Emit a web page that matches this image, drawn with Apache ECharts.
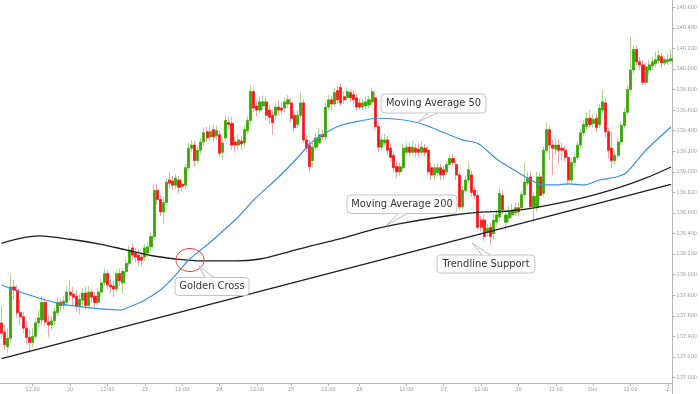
<!DOCTYPE html>
<html><head><meta charset="utf-8">
<script src="https://cdn.jsdelivr.net/npm/echarts@6/dist/echarts.min.js"></script>
<style>html,body{margin:0;padding:0;background:#fff}#c{width:700px;height:394px}</style>
</head><body><div id="c"></div>
<script>
// hourly candles: [open, close, low, high]
const candles = [
[137.53,137.43,137.38,137.70],[137.44,137.32,137.27,137.51],[137.30,137.38,137.24,137.48],[137.38,137.88,137.35,138.00],
[137.88,137.85,137.75,137.95],[137.85,137.63,137.58,137.90],[137.63,137.59,137.51,137.75],[137.59,137.48,137.43,137.64],
[137.48,137.39,137.32,137.54],[137.39,137.34,137.24,137.46],[137.34,137.40,137.29,137.48],[137.40,137.53,137.37,137.58],
[137.53,137.58,137.49,137.66],[137.56,137.73,137.51,137.79],[137.73,137.54,137.50,137.77],[137.54,137.51,137.39,137.61],
[137.51,137.55,137.46,137.60],[137.55,137.64,137.51,137.68],[137.63,137.73,137.60,137.78],[137.73,137.70,137.64,137.77],
[137.70,137.74,137.66,137.79],[137.73,137.83,137.69,137.89],[137.83,137.80,137.75,137.95],[137.81,137.78,137.70,137.88],
[137.79,137.69,137.64,137.85],[137.69,137.76,137.61,137.81],[137.75,137.82,137.70,137.87],[137.82,137.70,137.66,137.88],
[137.70,137.83,137.67,137.89],[137.83,137.78,137.73,137.86],[137.79,137.73,137.68,137.83],[137.73,137.83,137.70,137.87],
[137.83,137.92,137.79,137.96],[137.92,138.01,137.89,138.06],[138.01,137.90,137.86,138.05],[137.90,137.88,137.82,137.96],
[137.89,137.86,137.78,137.94],[137.86,138.01,137.83,138.05],[138.01,137.94,137.89,138.06],[137.92,138.03,137.82,138.06],
[138.03,138.11,137.98,138.16],[138.11,138.24,138.08,138.28],[138.26,138.19,138.14,138.30],[138.21,138.17,138.12,138.26],
[138.19,138.14,138.09,138.25],[138.17,138.14,138.08,138.22],[138.17,138.26,138.13,138.30],[138.21,138.27,138.17,138.32],
[138.27,138.37,138.23,138.41],[138.37,138.82,138.34,138.88],[138.82,138.73,138.68,138.88],[138.73,138.61,138.57,138.77],
[138.61,138.70,138.50,138.75],[138.70,138.90,138.67,138.94],[138.92,138.89,138.84,139.00],[138.91,138.87,138.82,138.96],
[138.87,138.94,138.83,138.98],[138.92,138.85,138.79,138.96],[138.88,138.86,138.81,138.93],[138.87,139.04,138.83,139.08],
[139.04,139.23,139.01,139.28],[139.23,139.26,139.19,139.31],[139.26,139.11,139.05,139.30],[139.11,139.21,139.08,139.25],
[139.21,139.29,139.17,139.33],[139.29,139.38,139.25,139.43],[139.39,139.33,139.29,139.44],[139.34,139.39,139.30,139.44],
[139.41,139.34,139.30,139.46],[139.35,139.40,139.31,139.45],[139.36,139.18,139.14,139.40],[139.19,139.28,139.11,139.33],
[139.33,139.50,139.30,139.55],[139.48,139.46,139.41,139.54],[139.47,139.26,139.21,139.53],[139.29,139.26,139.19,139.34],
[139.26,139.31,139.21,139.36],[139.30,139.27,139.21,139.35],[139.28,139.41,139.24,139.45],[139.40,139.50,139.37,139.54],
[139.50,139.78,139.47,139.84],[139.78,139.62,139.58,139.82],[139.64,139.60,139.54,139.69],[139.60,139.68,139.57,139.73],
[139.64,139.68,139.60,139.74],[139.68,139.55,139.50,139.73],[139.60,139.53,139.46,139.65],[139.55,139.48,139.36,139.60],
[139.55,139.63,139.50,139.67],[139.63,139.60,139.55,139.70],[139.62,139.60,139.56,139.67],[139.62,139.68,139.58,139.73],
[139.66,139.70,139.62,139.75],[139.67,139.52,139.48,139.72],[139.55,139.43,139.39,139.60],[139.46,139.55,139.43,139.60],
[139.55,139.67,139.52,139.77],[139.67,139.31,139.28,139.71],[139.31,139.23,139.19,139.36],[139.26,139.05,139.00,139.31],
[139.11,139.24,139.04,139.28],[139.24,139.33,139.21,139.38],[139.28,139.36,139.25,139.43],[139.36,139.34,139.30,139.41],
[139.34,139.63,139.31,139.67],[139.63,139.70,139.60,139.75],[139.70,139.66,139.60,139.74],[139.66,139.77,139.63,139.82],
[139.79,139.70,139.66,139.84],[139.82,139.67,139.64,139.86],[139.73,139.70,139.66,139.78],[139.72,139.78,139.69,139.82],
[139.77,139.72,139.68,139.80],[139.75,139.70,139.66,139.80],[139.72,139.63,139.59,139.76],[139.67,139.63,139.60,139.71],
[139.63,139.67,139.60,139.71],[139.64,139.68,139.61,139.73],[139.65,139.70,139.62,139.74],[139.68,139.78,139.66,139.82],
[139.72,139.44,139.41,139.78],[139.44,139.24,139.19,139.47],[139.24,139.31,139.21,139.36],[139.28,139.31,139.25,139.37],
[139.31,139.21,139.16,139.35],[139.23,139.14,139.10,139.27],[139.16,139.04,138.99,139.20],[139.05,139.00,138.94,139.10],
[139.00,139.05,138.96,139.09],[139.04,139.23,139.01,139.27],[139.19,139.24,139.16,139.29],[139.24,139.19,139.15,139.28],
[139.19,139.24,139.16,139.30],[139.23,139.19,139.14,139.27],[139.22,139.19,139.14,139.28],[139.19,139.24,139.16,139.29],
[139.23,139.19,139.15,139.27],[139.21,139.00,138.97,139.25],[139.04,138.97,138.92,139.09],[138.97,139.04,138.92,139.07],
[138.99,139.04,138.96,139.09],[139.04,138.97,138.92,139.08],[139.02,138.97,138.92,139.06],[139.00,139.07,138.97,139.10],
[139.07,139.13,139.04,139.17],[139.13,139.09,139.05,139.18],[139.07,138.97,138.92,139.10],[138.97,138.66,138.63,139.00],
[138.66,138.82,138.63,138.86],[138.82,138.92,138.79,138.96],[138.92,139.02,138.89,139.10],[138.97,138.80,138.76,139.01],
[138.82,138.77,138.73,138.86],[138.77,138.46,138.43,138.82],[138.53,138.46,138.42,138.57],[138.53,138.37,138.33,138.58],
[138.41,138.45,138.37,138.49],[138.46,138.37,138.29,138.51],[138.40,138.53,138.34,138.59],[138.51,138.58,138.47,138.63],
[138.56,138.79,138.53,138.84],[138.77,138.63,138.59,138.82],[138.51,138.58,138.43,138.63],[138.55,138.61,138.51,138.67],
[138.58,138.63,138.55,138.69],[138.60,138.65,138.57,138.70],[138.65,138.61,138.57,138.70],[138.65,138.78,138.62,138.82],
[138.78,138.90,138.75,139.09],[138.89,138.94,138.86,139.00],[138.95,138.66,138.63,139.00],[138.66,138.76,138.50,138.80],
[138.65,138.95,138.61,139.00],[138.95,138.77,138.73,138.99],[138.79,139.21,138.76,139.25],[139.21,139.41,139.18,139.48],
[139.41,139.26,139.11,139.45],[139.26,139.23,138.97,139.31],[139.22,139.26,139.16,139.33],[139.26,139.21,139.07,139.32],
[139.23,139.21,139.11,139.28],[139.21,139.14,139.10,139.25],[139.14,138.92,138.87,139.18],[138.92,139.09,138.89,139.13],
[139.09,139.14,139.05,139.18],[139.14,139.26,139.11,139.30],[139.26,139.38,139.23,139.42],[139.38,139.46,139.35,139.50],
[139.44,139.52,139.41,139.58],[139.52,139.46,139.43,139.60],[139.47,139.51,139.43,139.56],[139.52,139.43,139.39,139.57],
[139.46,139.62,139.43,139.66],[139.60,139.68,139.57,139.80],[139.67,139.39,139.33,139.72],[139.39,139.21,139.13,139.43],
[139.23,139.11,139.04,139.39],[139.11,139.16,139.07,139.21],[139.16,139.29,139.13,139.33],[139.29,139.45,139.26,139.49],
[139.45,139.58,139.42,139.62],[139.58,139.80,139.55,139.84],[139.80,139.99,139.77,140.31],[139.99,140.19,139.95,140.23],
[140.19,140.07,140.03,140.23],[140.07,140.04,139.99,140.12],[140.04,139.87,139.84,140.09],[139.87,140.02,139.84,140.06],
[139.99,140.04,139.94,140.09],[140.03,140.07,139.99,140.12],[140.05,140.09,140.02,140.17],[140.08,140.13,140.05,140.18],
[140.12,140.06,140.01,140.16],[140.06,140.09,140.03,140.12],[140.07,140.09,140.04,140.14],[140.08,140.10,140.05,140.19]
];
// [candle index, value]
const ma50 = [
[0,137.899],[5,137.841],[12,137.773],[19,137.715],[25,137.688],[32,137.666],[38,137.656],[41,137.685],[46,137.753],
[51,137.851],[54,137.935],[58,138.070],[60,138.140],[64,138.240],[67,138.315],[76,138.561],[81,138.726],[89,138.950],
[95,139.134],[99,139.271],[103,139.358],[108,139.441],[115,139.494],[121,139.521],[127,139.511],[134,139.475],
[140,139.407],[148,139.310],[153,139.275],[159,139.125],[163,139.047],[169,138.937],[174,138.872],[178,138.872],
[182,138.882],[187,138.872],[192,138.920],[198,138.954],[201,139.001],[207,139.212],[215,139.436]
];
const ma200 = [
[0,138.305],[12,138.376],[22,138.344],[32,138.295],[40,138.240],[48,138.186],[56,138.152],[64,138.133],[75,138.133],
[83,138.152],[92,138.220],[100,138.284],[108,138.342],[120,138.444],[128,138.497],[144,138.575],[153,138.606],
[163,138.619],[172,138.655],[186,138.741],[198,138.843],[207,138.940],[215,139.047]
];
const trendline = [[0,137.184],[215,138.877]];
const tickIndex = [10,22,34,46,58,70,82,93,105,115,130,142,154,166,178,190,202,214];
const tickText = ['12:00','20','12:00','23','12:00','24','12:00','25','12:00','26','12:00','27','12:00','30','12:00','Dec','12:00','2'];
const yTicks = [137.0,137.2,137.4,137.6,137.8,138.0,138.2,138.4,138.6,138.8,139.0,139.2,139.4,139.6,139.8,140.0,140.2,140.4,140.6];

const categories = candles.map((_, i) => String(i));
const bodies = candles.map(([o, c]) => [o, c, Math.min(o, c), Math.max(o, c)]);
const showTick = (i) => tickIndex.indexOf(i) >= 0;

const GREEN = '#36a900', RED = '#ff1414', LGREEN = '#a9d98e', LRED = '#f5a3a3';
const chart = echarts.init(document.getElementById('c'), null, {renderer: 'canvas'});
const FONT = '"DejaVu Sans Condensed","Liberation Sans",sans-serif';

function callout(x, y, w, h, text, tip, b1, b2) {
  return [
    {type: 'rect', shape: {x: x, y: y, width: w, height: h, r: 4}, style: {fill: '#fff', stroke: '#c4c4c4', lineWidth: 1}, z: 100},
    {type: 'polygon', shape: {points: [tip, b1, b2]}, style: {fill: '#fff', stroke: null}, z: 101},
    {type: 'polyline', shape: {points: [b1, tip, b2]}, style: {fill: null, stroke: '#b8b8b8', lineWidth: 1}, z: 102},
    {type: 'text', style: {x: x + w / 2, y: y + h / 2, text: text, fill: '#333', font: '11px ' + FONT, align: 'center', verticalAlign: 'middle'}, z: 103}
  ];
}

chart.setOption({
  animation: false,
  backgroundColor: '#fff',
  grid: {left: 0, right: 24, top: 0, bottom: 0, containLabel: false},
  xAxis: {
    type: 'category', data: categories, boundaryGap: true, offset: -11,
    axisLine: {show: true, lineStyle: {color: '#b5b5b5', width: 1}},
    axisTick: {show: true, alignWithLabel: true, length: 3, interval: (i) => showTick(i), lineStyle: {color: '#b5b5b5'}},
    axisLabel: {show: true, interval: (i) => showTick(i), formatter: (v, i) => tickText[tickIndex.indexOf(Number(v))] || '',
      color: '#9a9a9a', fontSize: 5.5, margin: 4, fontFamily: FONT},
    splitLine: {show: false}
  },
  yAxis: {
    type: 'value', position: 'right', min: 136.839, max: 140.671, scale: true,
    axisLine: {show: true, lineStyle: {color: '#b5b5b5', width: 1}},
    axisTick: {show: true, length: 3, customValues: yTicks, lineStyle: {color: '#b5b5b5'}},
    axisLabel: {show: true, customValues: yTicks, formatter: (v) => v.toFixed(3), color: '#9a9a9a', fontSize: 5.5, margin: 4, fontFamily: FONT},
    splitLine: {show: false}
  },
  series: [
    {type: 'candlestick', data: candles, barWidth: 2.6, z: 2,
      itemStyle: {color: LGREEN, color0: LRED, borderColor: LGREEN, borderColor0: LRED, borderWidth: 1}},
    {type: 'candlestick', data: bodies, barWidth: 2.6, z: 3,
      itemStyle: {color: GREEN, color0: RED, borderColor: GREEN, borderColor0: RED, borderWidth: 0.6}},
    {type: 'line', data: ma200, smooth: 0.3, symbol: 'none', z: 5, lineStyle: {color: '#1e1e1e', width: 1.3}},
    {type: 'line', data: ma50, smooth: 0.3, symbol: 'none', z: 6, lineStyle: {color: '#3d8ee6', width: 1.2}},
    {type: 'line', data: trendline, symbol: 'none', z: 5, lineStyle: {color: '#1e1e1e', width: 1.3}}
  ],
  graphic: [
    {type: 'ellipse', shape: {cx: 190, cy: 260, rx: 14, ry: 11.5}, style: {fill: null, stroke: '#e8403a', lineWidth: 1}, z: 99},
    ...callout(175, 277.5, 74, 18, 'Golden Cross', [199, 266], [205, 277.5], [214, 277.5]),
    ...callout(381, 94, 105, 19, 'Moving Average 50', [418, 122], [428, 113], [437, 113]),
    ...callout(347, 195, 110, 18.5, 'Moving Average 200', [387, 225], [398, 213.5], [407, 213.5]),
    ...callout(437, 255, 98, 18, 'Trendline Support', [472, 243], [482, 255], [490, 255])
  ]
});
</script>
</body></html>
